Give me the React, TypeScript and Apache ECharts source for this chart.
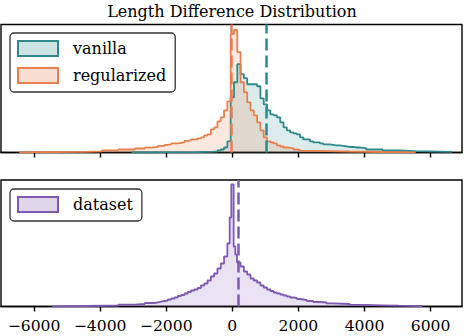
import React, { useEffect, useRef } from "react";
import * as echarts from "echarts";

const TITLE = "Length Difference Distribution";
const FONT = "DejaVu Serif";
const xTicks = [-6000, -4000, -2000, 0, 2000, 4000, 6000];

// vanilla histogram: bin edges and heights
const vanillaEdges = [-3050, -1050, -550, -450, -350, -250, -150, -50, 50, 150, 250, 350, 450, 550, 650, 750, 850, 950, 1050, 1150, 1250, 1350, 1450, 1550, 1650, 1750, 1850, 1950, 2050, 2150, 2250, 2350, 2450, 2550, 2650, 2750, 2850, 2950, 3050, 3150, 3250, 3350, 3450, 3550, 3650, 3750, 3850, 3950, 4050, 4550, 5050, 5550, 6650];
const vanillaCounts = [0.3, 0.8, 1.2, 2, 3, 5, 11, 55, 70, 88, 78, 74, 68, 68, 68, 66, 54, 48, 42, 38, 37, 35, 30, 25, 22, 20, 19, 18, 15, 13, 13, 11, 10, 10, 9, 8, 8, 7.5, 7, 7, 6.5, 6, 5.5, 5.5, 5, 5, 4.5, 4, 3, 2, 1.4, 0.7];
const vanillaMean = 1030;

// regularized histogram
const regularizedEdges = [-6450, -5450, -4450, -3950, -3450, -2950, -2650, -2450, -2250, -2050, -1950, -1850, -1750, -1650, -1550, -1450, -1350, -1250, -1150, -1050, -950, -850, -750, -650, -550, -450, -350, -250, -150, -50, 50, 150, 250, 350, 450, 550, 650, 750, 850, 950, 1050, 1150, 1250, 1350, 1450, 1550, 1650, 1750, 1850, 1950, 2050, 2550, 3550, 4550, 5550];
const regularizedCounts = [0.3, 0.6, 1.2, 2.2, 3, 4, 4.8, 5.5, 6.5, 7.5, 8, 9, 9, 9.5, 10, 11.5, 12, 13, 13, 14, 15, 17, 18, 23, 25, 31, 35, 42, 51, 118, 122, 100, 70, 60, 50, 42, 37, 30, 22, 15, 11, 10, 9, 7, 6, 5, 4.5, 4, 3, 2.5, 1.6, 1, 0.5, 0.2];
const regularizedMean = -30;

// dataset histogram
const datasetEdges = [-5450, -4450, -3450, -2950, -2650, -2350, -2250, -2150, -2050, -1950, -1850, -1750, -1650, -1550, -1450, -1350, -1250, -1150, -1050, -950, -850, -750, -650, -550, -450, -350, -250, -150, -80, -30, 40, 90, 140, 250, 350, 450, 550, 650, 750, 850, 950, 1050, 1150, 1250, 1350, 1450, 1550, 1650, 1750, 1850, 1950, 2050, 2150, 2250, 2450, 2650, 2850, 3050, 3550, 4050, 4550, 5050, 5750];
const datasetCounts = [0.5, 1, 1.8, 2.5, 3.5, 4.2, 4.8, 5.5, 6, 7, 8, 9, 10.5, 11.5, 13, 14.5, 16, 17, 18.5, 21, 23, 26, 30, 33, 38, 43, 50, 63, 89, 122, 60, 52, 44, 40, 35, 32, 28, 26, 24, 21, 19, 17, 15.5, 14, 13, 12, 11, 10, 9, 8.5, 7.5, 7, 6.5, 5.5, 4.5, 4, 3.2, 2.5, 1.6, 1.2, 0.8, 0.5];
const datasetMean = 170;

const TEAL = "#2e8a8a";
const TEAL_FILL = "rgba(46,138,138,0.24)";
const ORANGE = "#e8804e";
const ORANGE_FILL = "rgba(232,128,78,0.25)";
const PURPLE = "#7f5ab4";
const PURPLE_FILL = "rgba(127,90,180,0.25)";

function stepPoints(edges: number[], counts: number[]) {
  const pts: number[][] = [[edges[0], 0]];
  for (let i = 0; i < counts.length; i++) {
    pts.push([edges[i], counts[i]]);
    pts.push([edges[i + 1], counts[i]]);
  }
  pts.push([edges[edges.length - 1], 0]);
  return pts;
}

function histSeries(name: string, edges: number[], counts: number[], mean: number, color: string, fill: string, idx: number) {
  return {
    name,
    type: "line",
    xAxisIndex: idx,
    yAxisIndex: idx,
    data: stepPoints(edges, counts),
    showSymbol: false,
    symbol: "none",
    lineStyle: { color, width: 1.8 },
    itemStyle: { color },
    areaStyle: { color: fill },
    silent: true,
    markLine: {
      silent: true,
      symbol: ["none", "none"],
      label: { show: false },
      lineStyle: { color, width: 2.5, type: [12, 5] },
      data: [{ xAxis: mean }],
    },
  };
}

const legendBase = {
  orient: "vertical",
  left: 10,
  itemWidth: 40,
  itemHeight: 15,
  itemGap: 10,
  padding: [7, 9, 8, 7],
  backgroundColor: "rgba(255,255,255,0.8)",
  borderColor: "#333",
  borderWidth: 1.3,
  borderRadius: 4,
  selectedMode: false,
  textStyle: { fontFamily: FONT, fontSize: 16, color: "#000", padding: [0, 0, 0, 10] },
};

function xAxisOf(idx: number, labels: boolean) {
  return {
    type: "value",
    gridIndex: idx,
    min: -7000,
    max: 6950,
    splitLine: { show: false },
    axisLine: { show: true, onZero: false, lineStyle: { color: "#000", width: 1.4 } },
    axisTick: { show: true, length: 5, customValues: xTicks, lineStyle: { color: "#000", width: 1.4 } },
    axisLabel: {
      show: labels,
      customValues: xTicks,
      margin: 11,
      fontFamily: FONT,
      fontSize: 15.6,
      color: "#000",
      formatter: (v: number) => (v < 0 ? "\u2212" + Math.abs(v) : String(v)),
    },
  };
}

export default function App() {
  const ref = useRef<HTMLDivElement>(null);
  useEffect(() => {
    document.body.style.margin = "0";
    if (!ref.current) return;
    const chart = echarts.init(ref.current, null, { renderer: "svg" });
    chart.setOption({
      animation: false,
      backgroundColor: "#fff",
      title: {
        text: TITLE,
        left: "center",
        top: -2,
        textStyle: { fontFamily: FONT, fontSize: 16, fontWeight: "normal", color: "#000" },
      },
      grid: [
        { left: 1, right: 2, top: 24.5, height: 128, show: true, borderColor: "#000", borderWidth: 1.4 },
        { left: 1, right: 2, top: 180, height: 126.5, show: true, borderColor: "#000", borderWidth: 1.4 },
      ],
      xAxis: [xAxisOf(0, false), xAxisOf(1, true)],
      yAxis: [
        { type: "value", gridIndex: 0, min: 0, max: 127.5, show: false },
        { type: "value", gridIndex: 1, min: 0, max: 126.5, show: false },
      ],
      legend: [
        {
          ...legendBase,
          top: 33,
          data: [
            { name: "vanilla", icon: "rect", itemStyle: { color: TEAL_FILL, borderColor: TEAL, borderWidth: 2 } },
            { name: "regularized", icon: "rect", itemStyle: { color: ORANGE_FILL, borderColor: ORANGE, borderWidth: 2 } },
          ],
        },
        {
          ...legendBase,
          top: 189,
          data: [{ name: "dataset", icon: "rect", itemStyle: { color: PURPLE_FILL, borderColor: PURPLE, borderWidth: 2 } }],
        },
      ],
      series: [
        histSeries("vanilla", vanillaEdges, vanillaCounts, vanillaMean, TEAL, TEAL_FILL, 0),
        histSeries("regularized", regularizedEdges, regularizedCounts, regularizedMean, ORANGE, ORANGE_FILL, 0),
        histSeries("dataset", datasetEdges, datasetCounts, datasetMean, PURPLE, PURPLE_FILL, 1),
      ],
    });
    return () => chart.dispose();
  }, []);
  return <div ref={ref} style={{ width: 464, height: 336 }} />;
}
